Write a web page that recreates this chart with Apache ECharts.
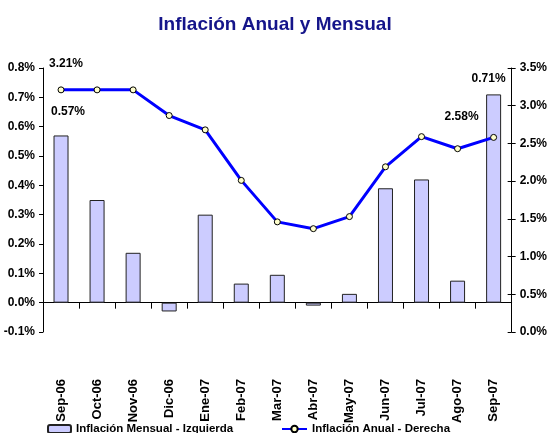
<!DOCTYPE html>
<html>
<head>
<meta charset="utf-8">
<script src="https://cdn.jsdelivr.net/npm/echarts@6/dist/echarts.min.js"></script>
<style>html,body{margin:0;padding:0;background:#fff}#c{width:550px;height:433px}</style>
</head>
<body>
<div id="c"></div>
<script>
var categories = ['Sep-06','Oct-06','Nov-06','Dic-06','Ene-07','Feb-07','Mar-07','Abr-07','May-07','Jun-07','Jul-07','Ago-07','Sep-07'];
var mensual = [0.57, 0.35, 0.17, -0.03, 0.30, 0.065, 0.095, -0.01, 0.03, 0.39, 0.42, 0.075, 0.71];
var anual = [3.21, 3.21, 3.21, 2.87, 2.68, 2.01, 1.46, 1.37, 1.53, 2.19, 2.59, 2.43, 2.58];
var leftTicks = {min: -0.1, max: 0.8, interval: 0.1};
var rightTicks = {min: 0, max: 3.5, interval: 0.5};
var mensualName = 'Inflación Mensual - Izquierda';
var anualName = 'Inflación Anual - Derecha';

var FONT = '"Liberation Sans", Arial, sans-serif';

var barLabels = {0: [7, -13], 12: [-5, -5]};
var lineLabels = {0: [5, -12], 12: [-32, -6]};

var barData = mensual.map(function (v, i) {
  var d = {value: v};
  if (barLabels[i]) {
    d.label = {show: true, position: 'top', offset: barLabels[i], formatter: v.toFixed(2) + '%'};
  }
  return d;
});
var lineData = anual.map(function (v, i) {
  var d = {value: v};
  if (lineLabels[i]) {
    d.label = {show: true, position: 'top', offset: lineLabels[i], formatter: v.toFixed(2) + '%'};
  }
  return d;
});

var chart = echarts.init(document.getElementById('c'), null, {renderer: 'canvas'});
chart.setOption({
  animation: false,
  backgroundColor: '#ffffff',
  textStyle: {fontFamily: FONT},
  title: {
    text: 'Inflación Anual y Mensual',
    left: 'center',
    top: 10,
    textStyle: {fontFamily: FONT, fontWeight: 'bold', fontSize: 19, color: '#15158a'}
  },
  legend: [
    {
      data: [mensualName], left: 42, top: 418, itemWidth: 23, itemHeight: 8,
      itemGap: 4,
      textStyle: {fontFamily: FONT, fontWeight: 'bold', fontSize: 11.5, color: '#000'}
    },
    {
      data: [anualName], left: 276, top: 418, itemWidth: 25, itemHeight: 8,
      textStyle: {fontFamily: FONT, fontWeight: 'bold', fontSize: 11.5, color: '#000'}
    }
  ],
  grid: {left: 43, right: 35, top: 68, bottom: 101, containLabel: false},
  xAxis: {
    type: 'category',
    data: categories,
    boundaryGap: true,
    axisLine: {onZero: true, onZeroAxisIndex: 0, lineStyle: {color: '#000', width: 1}},
    axisTick: {show: true, length: 6, lineStyle: {color: '#000'}},
    axisLabel: {rotate: 90, margin: 47, color: '#000', fontFamily: FONT, fontWeight: 'bold', fontSize: 13, interval: 0},
    splitLine: {show: false}
  },
  yAxis: [
    {
      type: 'value', position: 'left',
      min: leftTicks.min, max: leftTicks.max, interval: leftTicks.interval,
      axisLine: {show: true, lineStyle: {color: '#000'}},
      axisTick: {show: true, length: 4, lineStyle: {color: '#000'}},
      axisLabel: {margin: 8, color: '#000', fontFamily: FONT, fontWeight: 'bold', fontSize: 12,
        formatter: function (v) { return v.toFixed(1) + '%'; }},
      splitLine: {show: false}
    },
    {
      type: 'value', position: 'right',
      min: rightTicks.min, max: rightTicks.max, interval: rightTicks.interval,
      axisLine: {show: true, lineStyle: {color: '#000'}},
      axisTick: {show: true, length: 4, lineStyle: {color: '#000'}},
      axisLabel: {margin: 8, color: '#000', fontFamily: FONT, fontWeight: 'bold', fontSize: 12,
        formatter: function (v) { return v.toFixed(1) + '%'; }},
      splitLine: {show: false}
    },
    {
      type: 'value', position: 'right',
      min: rightTicks.min, max: rightTicks.max, interval: rightTicks.interval,
      axisLine: {show: false},
      axisTick: {show: true, inside: true, length: 4, lineStyle: {color: '#000'}},
      axisLabel: {show: false},
      splitLine: {show: false}
    }
  ],
  series: [
    {
      name: mensualName,
      type: 'bar',
      yAxisIndex: 0,
      data: barData,
      barWidth: 15,
      itemStyle: {color: '#ccccff', borderColor: '#222', borderWidth: 1},
      label: {color: '#000', fontFamily: FONT, fontWeight: 'bold', fontSize: 12},
      z: 2
    },
    {
      name: anualName,
      type: 'line',
      yAxisIndex: 1,
      data: lineData,
      symbol: 'circle',
      symbolSize: 6,
      lineStyle: {color: '#0000ff', width: 3},
      itemStyle: {color: '#ffffcc', borderColor: '#000', borderWidth: 1},
      label: {color: '#000', fontFamily: FONT, fontWeight: 'bold', fontSize: 12},
      z: 3
    }
  ]
});
</script>
</body>
</html>
